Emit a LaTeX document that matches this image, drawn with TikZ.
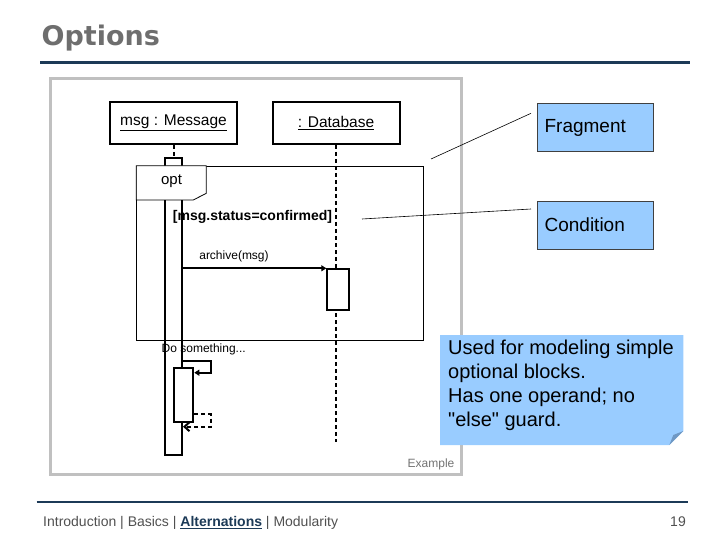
\documentclass[tikz,border=0pt]{standalone}
\usepackage{fontspec}
\setmainfont{Liberation Sans}[Ligatures=TeXOff]
\newfontfamily\titlefont{DejaVu Sans}
\usetikzlibrary{arrows.meta,positioning}

\definecolor{navyline}{HTML}{1C3A57}
\definecolor{titlegray}{HTML}{6E6E6E}
\definecolor{framegray}{HTML}{C0C0C0}
\definecolor{noteblue}{HTML}{99CCFF}
\definecolor{folddark}{HTML}{6F98C4}
\definecolor{footgray}{HTML}{505050}

\tikzset{
  obj/.style={draw, line width=2pt, minimum width=127pt, minimum height=42pt,
    inner sep=0pt, font=\fontsize{15.5}{18}\selectfont},
  actbar/.style={draw, fill=white, line width=2pt, inner sep=0pt},
  lifeline/.style={line width=2pt, dash pattern=on 4pt off 3pt},
  call/.style={line width=2pt, -{Triangle[length=5pt,width=6pt]}},
  reply/.style={line width=2pt, dash pattern=on 4pt off 3pt, -{Straight Barb[length=5pt,width=9pt]}},
  callout/.style={draw=black!75, fill=noteblue, line width=0.6pt, minimum width=116pt,
    minimum height=48pt, text width=102pt, inner xsep=7pt, align=left,
    font=\fontsize{19}{22}\selectfont},
  leader/.style={line width=0.6pt},
  small/.style={font=\fontsize{12}{14}\selectfont, inner sep=0pt}
}

\begin{document}
\begin{tikzpicture}[x=1pt, y=-1pt]
  \useasboundingbox (0,0) rectangle (720,540);

  % title and rules
  \node[anchor=base west, inner sep=0pt, text=titlegray,
    font=\titlefont\bfseries\fontsize{27}{32}\selectfont] (title) at (41.5,45.5) {Options};
  \draw[navyline, line width=2.5pt] (40,62.5) -- (690,62.5);
  \draw[navyline, line width=2.5pt] (36.5,502) -- (687.5,502);

  % example frame
  \draw[framegray, line width=3pt] (50,78.5) rectangle (461,474.5);
  \node[small, text=black!55] (example) at (431,464) {Example};

  % objects
  \node[obj] (msg) at (173.5,123) {\underline{msg : Message}};
  \node[obj] (db) at (336,123) {\underline{: Database}};

  % lifelines and activations
  \node[actbar, minimum width=17pt, minimum height=297pt, anchor=north] (msgact) at (173.5,157) {};
  \draw[lifeline] (msg.south) -- (msgact.north);
  \coordinate (dbend) at (336,442);
  \draw[lifeline] (db.south) -- (dbend);
  \node[actbar, minimum width=22pt, minimum height=41pt, anchor=north] (dbact) at (338.3,268.3) {};

  % opt fragment
  \node[draw, line width=0.8pt, minimum width=287pt, minimum height=174.3pt,
    anchor=north west, inner sep=0pt] (frag) at (136.3,165.7) {};
  \draw[line width=0.8pt, fill=white] (frag.north west) -- ++(70,0) -- ++(0,27.6)
    -- ++(-13,6.7) -- (frag.west |- 0,200) -- cycle;
  \node[font=\fontsize{15}{18}\selectfont] (optlabel) at (171.5,181) {opt};
  \node[font=\bfseries\fontsize{14}{16}\selectfont, inner sep=0pt] (guard) at (252.5,216.5) {[msg.status=confirmed]};

  % messages
  \node[small] (archive) at (234,256) {archive(msg)};
  \draw[call] (msgact.east |- dbact.north west) -- (dbact.north west);

  \node[small, anchor=west] (dosome) at (161.5,349) {Do something...};
  \node[actbar, minimum width=19pt, minimum height=54pt, anchor=north] (subact) at (183.8,366.7) {};
  \coordinate (selfturn) at (211,361);
  \coordinate (selfback) at (211,372.7);
  \draw[call] (msgact.east |- selfturn) -- (selfturn) -- (selfback) -- (subact.east |- selfback);
  \coordinate (retturn) at (211,414.3);
  \coordinate (retback) at (211,426.7);
  \draw[reply] (subact.east |- retturn) -- (retturn) -- (retback) -- (msgact.east |- retback);

  % callouts
  \node[callout, anchor=north west] (fragnote) at (537.3,103.3) {Fragment};
  \node[callout, anchor=north west] (condnote) at (537.3,200.7) {Condition};
  \coordinate (fragtip) at (431,159);
  \coordinate (fragend) at (531,113.3);
  \draw[leader] (fragtip) -- (fragend);
  \coordinate (condtip) at (362,219);
  \coordinate (condend) at (531,209);
  \draw[leader] (condtip) -- (condend);

  % note with folded corner
  \fill[noteblue] (440,335) -- (683.3,335) -- (683.3,431) -- (669.3,445) -- (440,445) -- cycle;
  \fill[folddark] (683.3,431) -- (669.3,445) -- (673.3,435) -- cycle;
  \node[anchor=north west, inner xsep=8pt, inner ysep=5pt, align=left,
    font=\fontsize{20}{24}\selectfont] (usage) at (440,335)
    {Used for modeling simple\\optional blocks.\\Has one operand; no\\"else" guard.};

  % footer
  \node[anchor=base west, inner sep=0pt, text=footgray, font=\fontsize{14}{16}\selectfont] (nav) at (43,526.5)
    {Introduction | Basics | \textcolor{navyline}{\bfseries\underline{Alternations}} | Modularity};
  \node[anchor=base east, inner sep=0pt, text=footgray, font=\fontsize{14}{16}\selectfont] (pagenum) at (686,526.5) {19};
\end{tikzpicture}
\end{document}
